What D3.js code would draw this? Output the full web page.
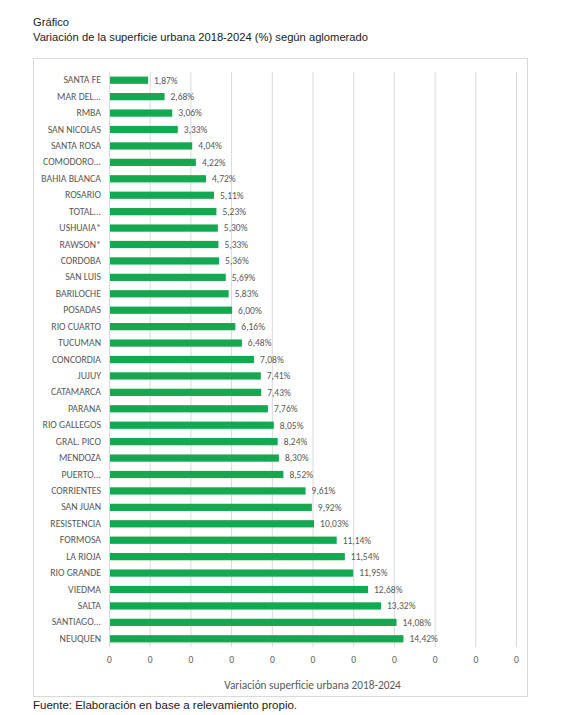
<!DOCTYPE html>
<html>
<head>
<meta charset="utf-8">
<script src="https://cdn.jsdelivr.net/npm/d3@7"></script>
<style>
  body { margin: 0; background: #fff; }
</style>
</head>
<body>
<div id="chart"></div>
<script>
const categories = [
  "SANTA FE", "MAR DEL...", "RMBA", "SAN NICOLAS", "SANTA ROSA", "COMODORO...",
  "BAHIA BLANCA", "ROSARIO", "TOTAL...", "USHUAIA*", "RAWSON*", "CORDOBA",
  "SAN LUIS", "BARILOCHE", "POSADAS", "RIO CUARTO", "TUCUMAN", "CONCORDIA",
  "JUJUY", "CATAMARCA", "PARANA", "RIO GALLEGOS", "GRAL. PICO", "MENDOZA",
  "PUERTO...", "CORRIENTES", "SAN JUAN", "RESISTENCIA", "FORMOSA", "LA RIOJA",
  "RIO GRANDE", "VIEDMA", "SALTA", "SANTIAGO...", "NEUQUEN"
]
const values = [
  1.87, 2.68, 3.06, 3.33, 4.04, 4.22,
  4.72, 5.11, 5.23, 5.30, 5.33, 5.36,
  5.69, 5.83, 6.00, 6.16, 6.48, 7.08,
  7.41, 7.43, 7.76, 8.05, 8.24, 8.30,
  8.52, 9.61, 9.92, 10.03, 11.14, 11.54,
  11.95, 12.68, 13.32, 14.08, 14.42
]
// axis ticks every 2 %, shown as "0" like the original number format
const tickValues = [0, 2, 4, 6, 8, 10, 12, 14, 16, 18, 20]
const tickLabels = ["0", "0", "0", "0", "0", "0", "0", "0", "0", "0", "0"]

const width = 577
const height = 715
const margin = { top: 72, right: 61, bottom: 68, left: 109 }
const labelFont = "Carlito, 'Liberation Sans', sans-serif"
const textGray = "#595959"

const data = categories.map((c, i) => ({ name: c, value: values[i] }))

const svg = d3.select("#chart")
  .append("svg")
  .attr("width", width)
  .attr("height", height)

// Title
svg.append("text")
  .attr("x", 33).attr("y", 26)
  .attr("font-family", "'Liberation Sans', Arial, sans-serif")
  .attr("font-size", 11.2)
  .attr("fill", "#1a1a1a")
  .text("Gráfico")

svg.append("text")
  .attr("x", 33).attr("y", 41)
  .attr("font-family", "'Liberation Sans', Arial, sans-serif")
  .attr("font-size", 11.2)
  .attr("fill", "#1a1a1a")
  .text("Variación de la superficie urbana 2018-2024 (%) según aglomerado")

// Chart frame
svg.append("rect")
  .attr("x", 33.5).attr("y", 58.5)
  .attr("width", 527 - 33).attr("height", 696 - 58)
  .attr("fill", "none")
  .attr("stroke", "#d9d9d9")
  .attr("stroke-width", 1)

const x = d3.scaleLinear()
  .domain([0, 20])
  .range([margin.left, width - margin.right])

const y = d3.scaleBand()
  .domain(categories)
  .range([margin.top, height - margin.bottom])
  .paddingInner(0.56)
  .paddingOuter(0.28)

// Gridlines
svg.append("g")
  .selectAll("line")
  .data(tickValues)
  .join("line")
  .attr("x1", d => x(d) + 0.5)
  .attr("x2", d => x(d) + 0.5)
  .attr("y1", margin.top)
  .attr("y2", height - margin.bottom)
  .attr("stroke", "#d9d9d9")
  .attr("stroke-width", 1)

// Bars
svg.append("g")
  .selectAll("rect")
  .data(data)
  .join("rect")
  .attr("x", x(0) + 1)
  .attr("y", d => y(d.name))
  .attr("width", d => x(d.value) - x(0))
  .attr("height", y.bandwidth())
  .attr("fill", "#14a850")

// Value labels
svg.append("g")
  .selectAll("text")
  .data(data)
  .join("text")
  .attr("x", d => x(d.value) + 7)
  .attr("y", d => y(d.name) + y.bandwidth() / 2)
  .attr("dy", "0.35em")
  .attr("font-family", labelFont)
  .attr("font-size", 9.5)
  .attr("fill", textGray)
  .text(d => d.value.toFixed(2).replace(".", ",") + "%")

// Category axis
const yAxis = svg.append("g")
  .attr("transform", `translate(${margin.left - 8},0)`)
  .call(d3.axisLeft(y).tickSize(0).tickPadding(0))
yAxis.select(".domain").remove()
yAxis.selectAll("text")
  .attr("font-family", labelFont)
  .attr("font-size", 9.8)
  .attr("fill", textGray)

// Value axis
const xAxis = svg.append("g")
  .attr("transform", `translate(0,${height - margin.bottom})`)
  .call(d3.axisBottom(x).tickValues(tickValues).tickSize(0).tickPadding(9)
    .tickFormat((d, i) => tickLabels[i]))
xAxis.select(".domain").remove()
xAxis.selectAll("text")
  .attr("font-family", labelFont)
  .attr("font-size", 9.5)
  .attr("fill", textGray)

// Axis title
svg.append("text")
  .attr("x", (x(0) + x(20)) / 2)
  .attr("y", 689)
  .attr("text-anchor", "middle")
  .attr("font-family", labelFont)
  .attr("font-size", 11.3)
  .attr("fill", textGray)
  .text("Variación superficie urbana 2018-2024")

// Source
svg.append("text")
  .attr("x", 33).attr("y", 709)
  .attr("font-family", "'Liberation Sans', Arial, sans-serif")
  .attr("font-size", 11.5)
  .attr("fill", "#1a1a1a")
  .text("Fuente: Elaboración en base a relevamiento propio.")
</script>
</body>
</html>
